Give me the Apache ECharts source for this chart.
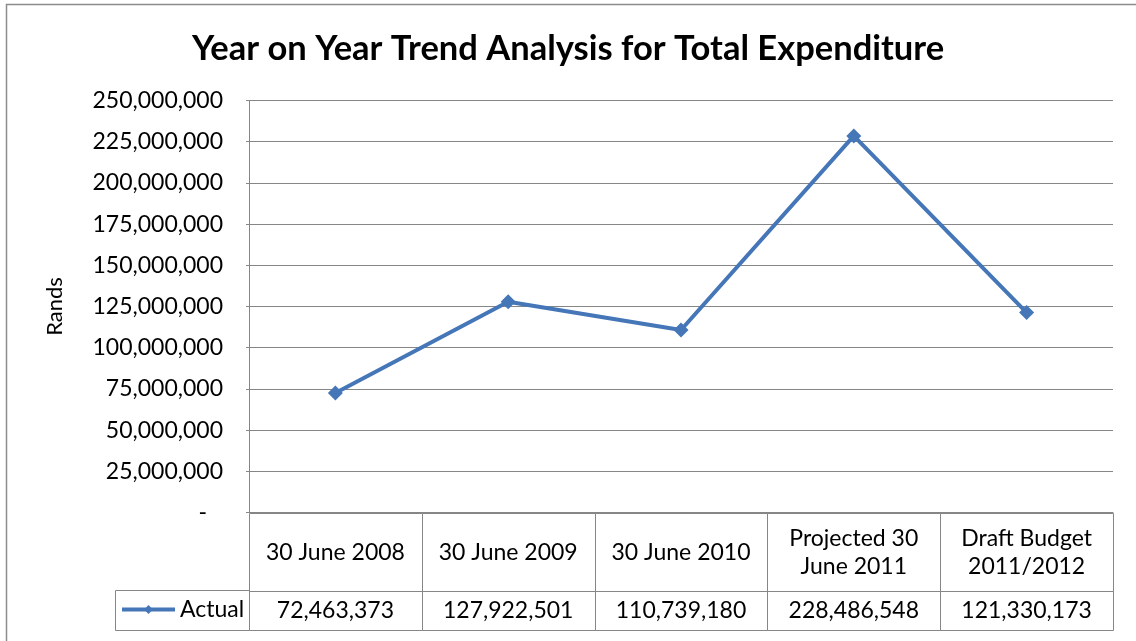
<!DOCTYPE html>
<html>
<head>
<meta charset="utf-8">
<title>Year on Year Trend Analysis for Total Expenditure</title>
<script src="https://cdn.jsdelivr.net/npm/echarts@6/dist/echarts.min.js"></script>
<style>
  html, body { margin: 0; padding: 0; background: #fff; }
  #chart { width: 1136px; height: 641px; }
</style>
</head>
<body>
<div id="chart"></div>
<script>
// Period labels (header row of the data table)
const categories = [
  '30 June 2008',
  '30 June 2009',
  '30 June 2010',
  'Projected 30\nJune 2011',
  'Draft Budget\n2011/2012'
];
// Total expenditure in Rands
const actual = [72463373, 127922501, 110739180, 228486548, 121330173];
// Value axis scale
const yMin = 0;
const yMax = 250000000;
const yStep = 25000000;

const seriesName = 'Actual';
const FONT = 'Lato, "Open Sans", sans-serif';
const TEXT_COLOR = '#000';
const GRID_COLOR = '#868686';
const LINE_COLOR = '#4577b8';

const fmt = v => v.toLocaleString('en-US');

const chart = echarts.init(document.getElementById('chart'), null, { renderer: 'canvas' });

// Header row height of the data table below the plot
const HEADER_H = 78;

function renderTableCell(params, api) {
  const idx = api.value(0);
  const val = api.value(2);
  const cs = params.coordSys;
  const cx = api.coord([idx, 0])[0];
  const bw = api.size([1, 0])[0];
  const x0 = Math.round(cx - bw / 2) + 0.5;
  const x1 = Math.round(cx + bw / 2) + 0.5;
  const top = Math.round(cs.y) + 0.5;
  const mid = Math.round(cs.y + HEADER_H) + 0.5;
  const bot = Math.round(cs.y + cs.height) + 0.5;
  const lineStyle = { stroke: GRID_COLOR, lineWidth: 1, fill: null };
  return {
    type: 'group',
    children: [
      { type: 'rect', shape: { x: x0, y: top, width: x1 - x0, height: mid - top }, style: lineStyle },
      { type: 'rect', shape: { x: x0, y: mid, width: x1 - x0, height: bot - mid }, style: lineStyle },
      {
        type: 'text',
        style: {
          text: categories[idx],
          x: cx, y: (top + mid) / 2,
          align: 'center', verticalAlign: 'middle',
          fontFamily: FONT, fontSize: 23, lineHeight: 28, fill: TEXT_COLOR
        }
      },
      {
        type: 'text',
        style: {
          text: fmt(val),
          x: cx, y: (mid + bot) / 2,
          align: 'center', verticalAlign: 'middle',
          fontFamily: FONT, fontSize: 23, fill: TEXT_COLOR
        }
      }
    ]
  };
}

const option = {
  backgroundColor: '#ffffff',
  animation: false,
  title: {
    text: 'Year on Year Trend Analysis for Total Expenditure',
    left: 'center',
    top: 26,
    textStyle: { fontFamily: FONT, fontSize: 34.5, fontWeight: 'bold', color: TEXT_COLOR }
  },
  legend: {
    data: [seriesName],
    left: 120,
    top: 598,
    padding: 0,
    itemWidth: 53,
    itemHeight: 11,
    itemGap: 3,
    lineStyle: { width: 4 },
    textStyle: { fontFamily: FONT, fontSize: 23, color: TEXT_COLOR }
  },
  grid: [
    { left: 249, top: 100.5, width: 864, height: 412, containLabel: false },
    { left: 249, top: 512.5, width: 864, height: 117.5, containLabel: false }
  ],
  xAxis: [
    {
      type: 'category', gridIndex: 0, data: categories, boundaryGap: true,
      axisLine: { show: true, lineStyle: { color: GRID_COLOR, width: 1 } },
      axisTick: { show: false }, axisLabel: { show: false }
    },
    {
      type: 'category', gridIndex: 1, data: categories, boundaryGap: true,
      axisLine: { show: false }, axisTick: { show: false }, axisLabel: { show: false },
      splitLine: { show: false }
    }
  ],
  yAxis: [
    {
      type: 'value', gridIndex: 0, min: yMin, max: yMax, interval: yStep,
      name: 'Rands', nameLocation: 'middle', nameGap: 183, nameRotate: 90,
      nameTextStyle: { fontFamily: FONT, fontSize: 22, color: TEXT_COLOR },
      axisLine: { show: true, lineStyle: { color: GRID_COLOR, width: 1 } },
      axisTick: { show: true, length: 3, lineStyle: { color: GRID_COLOR } },
      splitLine: { show: true, lineStyle: { color: GRID_COLOR, width: 1 } },
      axisLabel: {
        margin: 26,
        fontFamily: FONT, fontSize: 23, color: TEXT_COLOR,
        formatter: v => v === 0 ? '{z|-}' : fmt(v),
        rich: { z: { fontFamily: FONT, fontSize: 23, color: TEXT_COLOR, padding: [0, 16, 0, 0] } }
      }
    },
    {
      type: 'value', gridIndex: 1, min: 0, max: 1, show: false
    }
  ],
  graphic: [
    {
      type: 'rect', silent: true, z: -1,
      shape: { x: 6.5, y: 4.5, width: 1140, height: 650 },
      style: { fill: '#fff', stroke: '#8c8c8c', lineWidth: 1.5 }
    },
    {
      type: 'rect', silent: true, z: 10,
      shape: { x: 115.5, y: 590.5, width: 134, height: 40 },
      style: { fill: null, stroke: GRID_COLOR, lineWidth: 1 }
    }
  ],
  series: [
    {
      name: seriesName,
      type: 'line',
      xAxisIndex: 0, yAxisIndex: 0,
      data: actual,
      symbol: 'diamond',
      symbolSize: 15,
      lineStyle: { color: LINE_COLOR, width: 4 },
      itemStyle: { color: LINE_COLOR },
      z: 5
    },
    {
      name: 'table',
      type: 'custom',
      xAxisIndex: 1, yAxisIndex: 1,
      data: actual.map((v, i) => [i, 0, v]),
      renderItem: renderTableCell,
      clip: false,
      silent: true,
      z: 4
    }
  ]
};

chart.setOption(option);
</script>
</body>
</html>
